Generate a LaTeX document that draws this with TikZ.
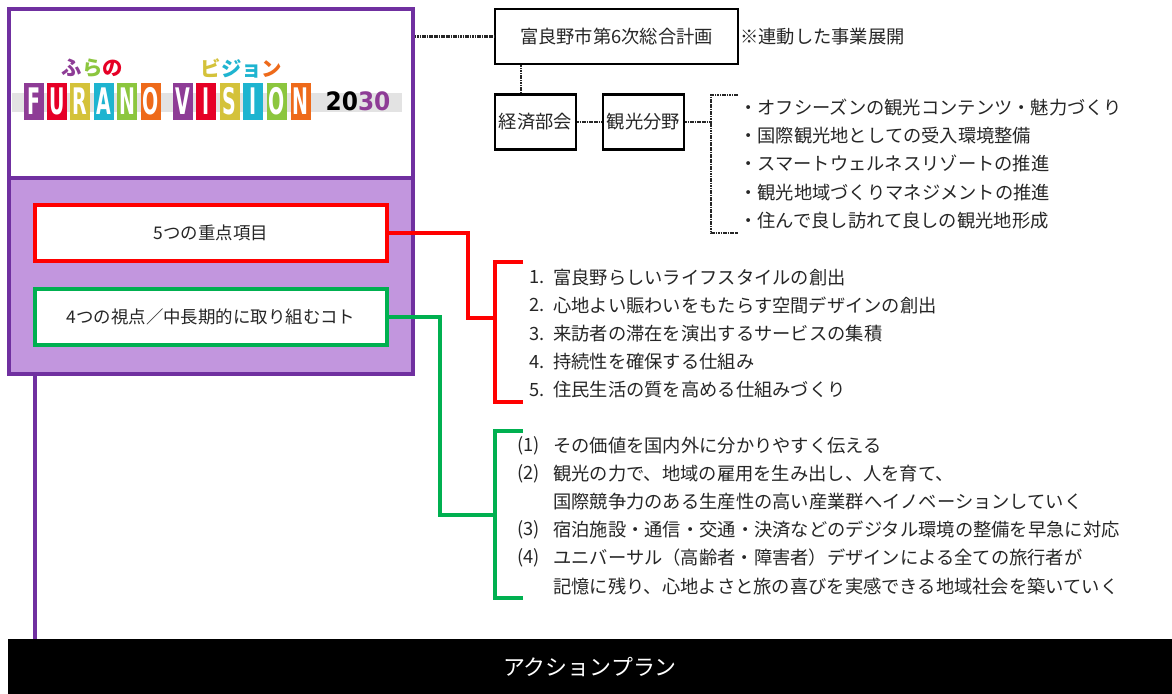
\documentclass[tikz,border=0pt]{standalone}
\usepackage{fontspec}
\setmainfont{Noto Sans CJK JP}
\newfontfamily\logofont{DejaVu Sans}
\usepackage{tikz}
\usetikzlibrary{positioning}
\definecolor{vpurple}{RGB}{112,48,160}
\definecolor{vlilac}{RGB}{194,150,222}
\definecolor{vred}{RGB}{255,0,0}
\definecolor{vgreen}{RGB}{0,176,80}
\definecolor{lpurple}{RGB}{142,60,150}
\definecolor{lred}{RGB}{230,0,38}
\definecolor{lyellow}{RGB}{212,194,58}
\definecolor{lcyan}{RGB}{30,180,208}
\definecolor{lgreen}{RGB}{140,198,62}
\definecolor{lorange}{RGB}{238,106,26}
\newcommand{\narrow}[1]{\scalebox{0.52}[1]{#1}}

\begin{document}
\begin{tikzpicture}[x=0.025cm, y=-0.025cm]
    \def\u{0.025cm}
    \tikzstyle{frame} = [rectangle, draw=vpurple, line width=2.5pt, inner sep=0pt, minimum width=404*\u]
    \tikzstyle{keyb} = [rectangle, fill=white, line width=2.3pt, inner sep=0pt, outer sep=0pt, minimum width=352*\u, minimum height=56*\u, font=\fontsize{12.4}{15}\selectfont, text=black!85]
    \tikzstyle{plain} = [rectangle, draw, fill=white, line width=1.6pt, inner sep=0pt, minimum height=55*\u, font=\fontsize{13}{16}\selectfont, text=black!85]
    \tikzstyle{item} = [anchor=west, inner sep=0pt, font=\fontsize{13}{16}\selectfont, text=black!85]
    \tikzstyle{link} = [line width=1.6pt, black!85, dash pattern=on 1.2pt off 0.5pt]
    \tikzstyle{tile} = [rectangle, inner sep=0pt, minimum width=20*\u, minimum height=37*\u, text=white, font=\logofont\bfseries\fontsize{26}{26}\selectfont]
    \useasboundingbox (0,0) rectangle (1172,694);

    % vision panel
    \node[frame, fill=white, minimum height=169*\u] (logo) at (211,93.5) {};
    \node[frame, fill=vlilac, minimum height=196*\u] (core) at (211,276) {};
    \fill[gray!22] (12,93) rectangle (402,112);
    \foreach \c/\l [count=\i from 0] in {lpurple/F,lred/U,lyellow/R,lcyan/A,lgreen/N,lorange/O}
        \node[tile, fill=\c] (furano\i) at (33.5+23.4*\i,101.5) {\narrow{\l}};
    \foreach \c/\l [count=\i from 0] in {lpurple/V,lred/I,lyellow/S,lcyan/I,lgreen/O,lorange/N}
        \node[tile, fill=\c] (vision\i) at (182.5+23.6*\i,101.5) {\narrow{\l}};
    \node[inner sep=0pt, font=\logofont\bfseries\fontsize{18}{18}\selectfont] (year) at (358,101) {\scalebox{0.92}[1]{20\textcolor{lpurple}{30}}};
    \node[inner sep=0pt, font=\bfseries\fontsize{14.5}{14.5}\selectfont] (furanokana) at (92.5,68) {\textcolor{lpurple}{ふ}\textcolor{lgreen}{ら}\textcolor{lred}{の}};
    \node[inner sep=0pt, font=\bfseries\fontsize{14.5}{14.5}\selectfont] (visionkana) at (241.5,68) {\textcolor{lyellow}{ビ}\textcolor{lcyan}{ジョ}\textcolor{lorange}{ン}};
    \node[keyb, draw=vred] (focus) at (211,233) {5つの重点項目};
    \node[keyb, draw=vgreen] (views) at (211,317) {4つの視点／中長期的に取り組むコト};

    % related plans
    \node[plain, minimum width=243*\u] (plan6) at (616.5,36.5) {富良野市第6次総合計画};
    \node[item] (linked) at (740,37) {※連動した事業展開};
    \node[plain, minimum width=81*\u] (econ) at (535.5,122) {経済部会};
    \node[plain, minimum width=81*\u] (tour) at (643.5,122) {観光分野};
    \draw[link] (logo.east |- plan6.west) -- (plan6.west);
    \draw[link] (econ.north west) ++(27,0) coordinate (econtop) -- (econtop |- plan6.south);
    \draw[link] (econ.east) -- (tour.west);
    \coordinate (tourbrace) at (711,122);
    \draw[link] (tour.east) -- (tourbrace);
    \draw[link] (738,95) -| (tourbrace) |- (738,233);
    \foreach \t [count=\i from 0] in {・オフシーズンの観光コンテンツ・魅力づくり,・国際観光地としての受入環境整備,・スマートウェルネスリゾートの推進,・観光地域づくりマネジメントの推進,・住んで良し訪れて良しの観光地形成}
        \node[item] (tourism\i) at (739,107.5+28.2*\i) {\t};

    % five focus items
    \coordinate (focusbrace) at (495,318);
    \draw[vred, line width=2.3pt] (focus.east) -| (468,318) -- (focusbrace);
    \draw[vred, line width=2.3pt] (523,262) -| (focusbrace) |- (523,402);
    \foreach \t [count=\i] in {富良野らしいライフスタイルの創出,心地よい賑わいをもたらす空間デザインの創出,来訪者の滞在を演出するサービスの集積,持続性を確保する仕組み,住民生活の質を高める仕組みづくり} {
        \node[item] (focusno\i) at (529,249+28.2*\i) {\i.};
        \node[item] (focus\i) at (553,249+28.2*\i) {\t};
    }

    % four viewpoints
    \coordinate (viewsbrace) at (495,515);
    \draw[vgreen, line width=2.3pt] (views.east) -| (440,515) -- (viewsbrace);
    \draw[vgreen, line width=2.3pt] (523,431) -| (viewsbrace) |- (523,598);
    \node[item] (viewno1) at (517,446) {(1)};
    \node[item] (view1) at (553,446) {その価値を国内外に分かりやすく伝える};
    \node[item] (viewno2) at (517,474) {(2)};
    \node[item] (view2) at (553,474) {観光の力で、地域の雇用を生み出し、人を育て、};
    \node[item] (view2b) at (553,502) {国際競争力のある生産性の高い産業群へイノベーションしていく};
    \node[item] (viewno3) at (517,530) {(3)};
    \node[item] (view3) at (553,530) {宿泊施設・通信・交通・決済などのデジタル環境の整備を早急に対応};
    \node[item] (viewno4) at (517,558) {(4)};
    \node[item] (view4) at (553,558) {ユニバーサル（高齢者・障害者）デザインによる全ての旅行者が};
    \node[item] (view4b) at (553,586) {記憶に残り、心地よさと旅の喜びを実感できる地域社会を築いていく};

    % action plan
    \node[fill=black, text=white, inner sep=0pt, minimum width=1164*\u, minimum height=55*\u, font=\fontsize{15.6}{18}\selectfont] (plan) at (590,666.5) {アクションプラン};
    \draw[vpurple, line width=2.5pt] (core.south -| views.west) -- (plan.north -| views.west);
\end{tikzpicture}
\end{document}
